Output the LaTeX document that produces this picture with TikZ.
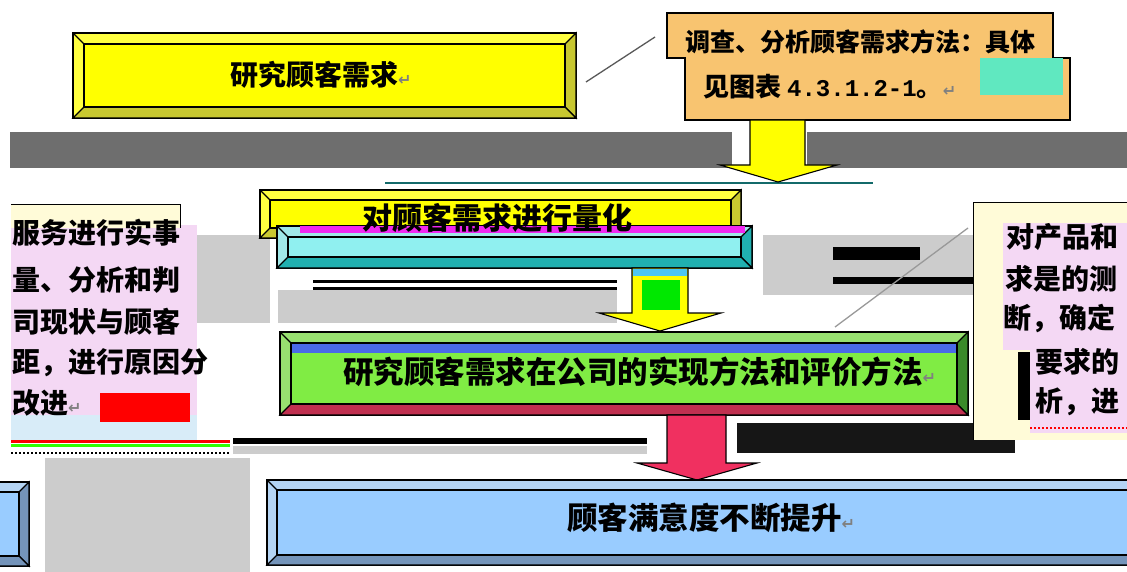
\documentclass[tikz,border=0pt]{standalone}
\usepackage{fontspec}
\setmainfont{Noto Sans CJK SC}
\newfontfamily\cjk{Noto Sans CJK SC}
\newfontfamily\dvs{DejaVu Sans}
\newfontfamily\lmono{Liberation Mono}
\definecolor{yface}{HTML}{FFFF00}
\definecolor{ylight}{HTML}{FFFF40}
\definecolor{ydark}{HTML}{C8C830}
\definecolor{orng}{HTML}{F8C470}
\definecolor{tealface}{HTML}{90F0F0}
\definecolor{teallight}{HTML}{A0E8E8}
\definecolor{tealdark}{HTML}{20B0B0}
\definecolor{mag}{HTML}{F028F0}
\definecolor{gface}{HTML}{80EC44}
\definecolor{glight}{HTML}{98E070}
\definecolor{gdark}{HTML}{3A8A2A}
\definecolor{crim}{HTML}{C03050}
\definecolor{bband}{HTML}{4A6AE8}
\definecolor{pinkarr}{HTML}{F03060}
\definecolor{bface}{HTML}{99CCFF}
\definecolor{blight}{HTML}{B4D4F4}
\definecolor{bdark}{HTML}{7494BA}
\definecolor{lav}{HTML}{F4D8F4}
\definecolor{cream}{HTML}{FFFBD8}
\definecolor{lblue}{HTML}{D8ECF8}
\definecolor{dgray}{HTML}{6E6E6E}
\definecolor{lgray}{HTML}{CCCCCC}
\definecolor{nblack}{HTML}{161616}
\definecolor{tealpatch}{HTML}{60E8C0}
\newcommand\rmk{{\dvs\fontsize{16}{16}\selectfont\textcolor{gray}{↵}}}
% bevel box: x1 y1 x2 y2 depth face light right bottom
\newcommand\bbox[9]{%
 \filldraw[fill=#7,ol] (#1,#2) rectangle (#3,#4);
 \filldraw[fill=#8,ol] (#3,#2) -- ({#3-#5},{#2+#5}) -- ({#3-#5},{#4-#5}) -- (#3,#4) -- cycle;
 \filldraw[fill=#9,ol] (#1,#4) -- ({#1+#5},{#4-#5}) -- ({#3-#5},{#4-#5}) -- (#3,#4) -- cycle;
 \filldraw[fill=#6,ol] ({#1+#5},{#2+#5}) rectangle ({#3-#5},{#4-#5});
 \draw[ol] (#1,#2) -- ({#1+#5},{#2+#5});
}
\tikzset{
  ol/.style={draw=black,line width=1.1pt},
  boxtxt/.style={inner sep=0pt, anchor=west, text=black},
  sidetxt/.style={font=\cjk\bfseries\fontsize{28}{28}\selectfont, inner sep=0pt, anchor=west},
  callout/.style={draw=gray!70!black, line width=1.3pt},
  blockarrow/.style={draw=black, line width=1.1pt, line join=miter},
}
\begin{document}
\begin{tikzpicture}[x=1pt,y=-1pt]
\useasboundingbox (0,0) rectangle (1127,572);
\clip (0,0) rectangle (1127,572);

% ---- background bands ----
\fill[dgray] (10,132) rectangle (732,168);
\fill[dgray] (807,132) rectangle (1127,168);
\draw[tealdark!60!black, line width=1.5pt] (385,183) -- (873,183);
\fill[lgray] (197,235) rectangle (270,323);
\fill[lgray] (278,290) rectangle (617,323);
\fill[black] (313,280) rectangle (617,283);
\fill[black] (313,287) rectangle (617,290);
\fill[lgray] (763,235) rectangle (983,295);
\fill[black] (833,247) rectangle (920,260);
\fill[black] (833,277) rectangle (983,284);
\fill[black] (233,438) rectangle (647,444);
\fill[lgray] (233,446) rectangle (647,454);
\fill[nblack] (737,423) rectangle (1015,453);
\fill[lgray] (45,458) rectangle (250,572);

% ---- left text box ----
\fill[lav] (11,225) rectangle (197,433);
\fill[lblue] (11,415) rectangle (197,440);
\fill[cream] (11,205) rectangle (180,228);
\draw[black,line width=1pt] (11,205) -- (180,205) -- (180,228);
\fill[red] (100,393) rectangle (190,422);
\fill[red] (11,440) rectangle (230,443);
\fill[green!80!yellow] (11,444) rectangle (230,447);
\draw[black,line width=2pt,dotted] (11,453) -- (230,453);
\node[sidetxt] (L1) at (12,233) {服务进行实事};
\node[sidetxt] (L2) at (12,280) {量、分析和判};
\node[sidetxt] (L3) at (12,322) {司现状与顾客};
\node[sidetxt] (L4) at (12,363) {距，进行原因分};
\node[sidetxt] (L5) at (12,403) {改进\rmk};

% ---- right text box ----
\fill[cream] (973,203) rectangle (1127,440);
\draw[black,line width=1pt] (973,440) -- (973,203) -- (1127,203);
\fill[lav] (1003,223) rectangle (1127,350);
\fill[lav] (1030,350) rectangle (1127,433);
\fill[black] (1018,352) rectangle (1030,420);
\draw[red,line width=2pt,dotted] (1030,428) -- (1127,428);
\node[sidetxt] (R1) at (1006,237) {对产品和};
\node[sidetxt] (R2) at (1005,279) {求是的测};
\node[sidetxt] (R3) at (1003,319) {断，确定};
\node[sidetxt] (R4) at (1035,362) {要求的};
\node[sidetxt] (R5) at (1035,402) {析，进};

% ---- box 1 ----
\bbox{73}{33}{576}{118}{11}{yface}{ylight}{ydark}{ydark}
\node[boxtxt,font=\cjk\bfseries\fontsize{28}{28}\selectfont] (t1) at (230,75) {研究顾客需求\rmk};

% ---- note box ----
\filldraw[fill=orng,ol] (667,13) -- (1053,13) -- (1053,58) -- (1070,58) -- (1070,120) -- (685,120) -- (685,58) -- (667,58) -- cycle;
\fill[tealpatch] (980,58) rectangle (1063,95);
\node[boxtxt,font=\cjk\bfseries\fontsize{25}{25}\selectfont] (n1) at (685,42) {调查、分析顾客需求方法：具体};
\node[boxtxt,font=\cjk\bfseries\fontsize{26}{26}\selectfont] (n2) at (703,87) {见图表 {\lmono\fontsize{24}{24}\selectfont 4.3.1.2-1}。\rmk};
\coordinate (c1a) at (586,82);
\coordinate (c1b) at (655,37);
\draw[callout] (c1a) -- (c1b);

% ---- arrow 1 ----
\filldraw[fill=yface,blockarrow] (750,120) -- (805,120) -- (805,165) -- (837,165) -- (778,182) -- (720,165) -- (750,165) -- cycle;

% ---- box 2 ----
\bbox{260}{190}{741}{238}{10}{yface}{ylight}{ydark}{ydark}
\bbox{277}{226}{752}{268}{11}{tealface}{teallight}{tealdark}{tealdark}
\fill[mag] (300,226) rectangle (745,233);
\node[boxtxt,font=\cjk\bfseries\fontsize{30}{30}\selectfont] (t2) at (362,218) {对顾客需求进行量化};

% ---- arrow 2 ----
\filldraw[fill=yface,blockarrow] (632,268) -- (688,268) -- (688,313) -- (721,313) -- (660,331) -- (599,313) -- (632,313) -- cycle;
\fill[cyan!70] (633,269) rectangle (687,276);
\fill[green!85!black!60!green] (642,280) rectangle (680,310);

% ---- box 3 ----
\bbox{280}{332}{968}{415}{11}{gface}{glight}{gdark}{crim}
\fill[bband] (292,344) rectangle (956,353);
\node[boxtxt,font=\cjk\bfseries\fontsize{30.5}{30.5}\selectfont] (t3) at (343,372) {研究顾客需求在公司的实现方法和评价方法\rmk};
\coordinate (c2a) at (835,327);
\coordinate (c2b) at (968,228);
\draw[callout,draw=gray!80] (c2a) -- (c2b);

% ---- arrow 3 ----
\filldraw[fill=pinkarr,blockarrow] (667,415) -- (726,415) -- (726,463) -- (757,463) -- (697,480) -- (637,463) -- (667,463) -- cycle;

% ---- box 4 ----
\bbox{-30}{482}{29}{566}{10}{bface}{blight}{bdark}{bdark}
\bbox{267}{480}{1140}{565}{10}{bface}{blight}{bdark}{bdark}
\node[boxtxt,font=\cjk\bfseries\fontsize{30.5}{30.5}\selectfont] (t4) at (567,518) {顾客满意度不断提升\rmk};
\end{tikzpicture}
\end{document}
